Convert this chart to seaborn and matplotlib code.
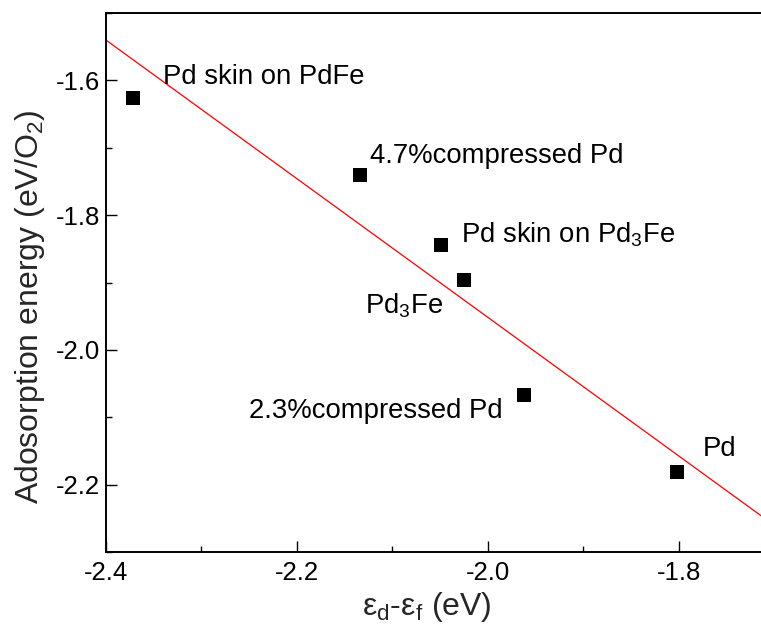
import matplotlib
matplotlib.use("Agg")
import numpy as np
import pandas as pd
import seaborn as sns
import matplotlib.pyplot as plt
from matplotlib.ticker import MultipleLocator

# ---- data ----
materials = ["Pd skin on PdFe", "4.7%compressed Pd", r"Pd skin on Pd$_\mathregular{3}$Fe",
             r"Pd$_\mathregular{3}$Fe", "2.3%compressed Pd", "Pd"]
d_band_center = [-2.372, -2.134, -2.0495, -2.0248, -1.962, -1.8024]
adsorption_energy = [-1.6264, -1.7404, -1.8447, -1.8968, -2.0676, -2.1808]
x_ticks = [-2.4, -2.2, -2.0, -1.8]
y_ticks = [-1.6, -1.8, -2.0, -2.2]

# label placement (pixels from marker, y up) and alignment
label_offsets = [(30, 14), (10, 12), (20, 3), (-21, -33), (-22, -23), (26, 16)]
label_ha = ["left", "left", "left", "right", "right", "left"]

df = pd.DataFrame({"x": d_band_center, "y": adsorption_energy, "name": materials})

sns.set_style("ticks")
plt.rcParams["font.family"] = ["Liberation Sans", "DejaVu Sans"]
plt.rcParams["mathtext.fontset"] = "custom"
plt.rcParams["mathtext.rm"] = "Liberation Sans"
plt.rcParams["mathtext.it"] = "Liberation Sans:italic"
plt.rcParams["mathtext.bf"] = "Liberation Sans:bold"

fig = plt.figure(figsize=(7.61, 6.32), dpi=100)
ax = fig.add_axes([106 / 761, 80 / 632, 668.5 / 761, 539 / 632])
ax.set_xlim(-2.4, -1.7)
ax.set_ylim(-2.3, -1.5)

sns.regplot(data=df, x="x", y="y", ax=ax, scatter=False, ci=None, truncate=False,
            line_kws=dict(color="red", lw=0.9))
sns.scatterplot(data=df, x="x", y="y", ax=ax, marker="s", s=115, color="black",
                linewidth=0, zorder=3)

for (xv, yv, name, off, ha) in zip(d_band_center, adsorption_energy, materials,
                                   label_offsets, label_ha):
    ax.annotate(name, xy=(xv, yv), xytext=off, textcoords="offset pixels",
                ha=ha, va="baseline", fontsize=19.8, color="black")

ax.set_xlim(-2.4, -1.7)
ax.set_ylim(-2.3, -1.5)
ax.set_xticks(x_ticks)
ax.set_xticklabels([f"{v:.1f}" for v in x_ticks])
ax.set_yticks(y_ticks)
ax.set_yticklabels([f"{v:.1f}" for v in y_ticks])
ax.xaxis.set_minor_locator(MultipleLocator(0.1))
ax.yaxis.set_minor_locator(MultipleLocator(0.1))
ax.tick_params(which="major", direction="in", length=8, width=1.0, labelsize=18.5,
               color="black", labelcolor="black", pad=6.5)
ax.tick_params(which="minor", direction="in", length=4, width=1.0, color="black")
ax.tick_params(axis="y", which="major", pad=4)

for side in ["left", "bottom", "top", "right"]:
    ax.spines[side].set_visible(True)
    ax.spines[side].set_linewidth(1.4)
    ax.spines[side].set_color("black")

ax.set_xlabel("ε$_\\mathregular{d}$-ε$_\\mathregular{f}$ (eV)", fontsize=23)
ax.set_ylabel("Adosorption energy (eV/O$_\\mathregular{2}$)", fontsize=23)
ax.yaxis.set_label_coords(-0.088, 0.455)
ax.xaxis.set_label_coords(0.48, -0.07)

fig.savefig("out.png", dpi=100)
